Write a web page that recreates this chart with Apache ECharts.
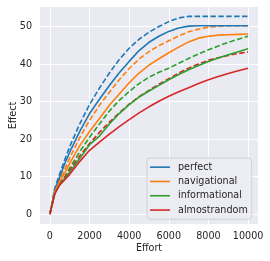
<!DOCTYPE html>
<html><head><meta charset="utf-8">
<script src="https://cdn.jsdelivr.net/npm/echarts@6/dist/echarts.min.js"></script>
<style>html,body{margin:0;padding:0;background:#fff}#c{width:270px;height:261px}</style>
</head><body><div id="c"></div>
<script>
const effort = [0,250,500,750,1000,1500,2000,2500,3000,3500,4000,4500,5000,5500,6000,6500,7000,7500,8000,8500,9000,9500,10000];
const perfectSolid  = [0,6.5,10,13.5,16.5,22,26.8,30.6,34.3,37.7,40.7,43.6,45.8,47.4,48.7,49.6,50.1,50.2,50.2,50.2,50.2,50.2,50.2];
const perfectDashed = [0,7,10.8,14.5,18,24,29.2,33.6,37.6,41.2,44.2,46.6,48.5,50.0,51.3,52.3,52.7,52.7,52.7,52.7,52.7,52.7,52.7];
const navSolid      = [0,6,8.8,11,13.5,18.2,22,25.5,29,32,35,37.6,39.7,41.4,43,44.5,45.9,46.9,47.4,47.7,47.8,47.9,48.0];
const navDashed     = [0,6.3,9.2,12,15,20.3,25,29,32.5,35.8,38.8,41.3,43.3,44.9,46.2,47.5,48.6,49.3,49.8,50.1,50.2,50.2,50.2];
const infoSolid     = [0,5.5,8,9.5,11.2,14.8,18.5,20.8,24,26.8,29.2,31.2,32.8,34.3,35.8,37.2,38.5,39.6,40.7,41.6,42.5,43.3,44.1];
const infoDashed    = [0,5.8,8.3,10,12.3,16.6,20.5,24,27.5,30.3,32.7,34.8,36.5,37.8,38.9,40.2,41.5,42.7,43.8,44.8,45.8,46.6,47.4];
const randSolid     = [0,5.5,7.8,9.2,10.6,14,17,19.2,21.3,23.3,25.2,27,28.6,30.1,31.4,32.6,33.7,34.8,35.8,36.7,37.5,38.2,38.9];
const randDashed    = [0,5.7,8.2,9.8,11.7,15.5,18.8,21.8,24.5,27,29.3,31.3,33,34.6,36.1,37.6,38.9,40,41,41.7,42.3,42.8,43.2];
const xTicks = [0,2000,4000,6000,8000,10000];
const yTicks = [0,10,20,30,40,50];
const names = ['perfect','navigational','informational','almostrandom'];
const colors = ['#1f77b4','#ff7f0e','#2ca02c','#d62728'];

const pairs = ys => effort.map((x,i)=>[x, ys[i]]);
const solids = [perfectSolid, navSolid, infoSolid, randSolid];
const dashes = [perfectDashed, navDashed, infoDashed, randDashed];
const series = [];
for (let i=0;i<4;i++){
  series.push({name: names[i]+' ', type:'line', data: pairs(dashes[i]), showSymbol:false, color: colors[i],
    lineStyle:{width:1.6, type:[5.5,2.4], color: colors[i]}, z:2});
}
for (let i=0;i<4;i++){
  series.push({name: names[i], type:'line', data: pairs(solids[i]), showSymbol:false, color: colors[i],
    lineStyle:{width:1.6, color: colors[i]}, z:3});
}
const txt = '#262626';
const font = 'DejaVu Sans';
const chart = echarts.init(document.getElementById('c'), null, {renderer:'canvas'});
chart.setOption({
  animation:false,
  backgroundColor:'#ffffff',
  textStyle:{fontFamily:font},
  grid:{left:40, top:7, width:218, height:217, show:true, backgroundColor:'#EAEAF2', borderWidth:0,
    containLabel:false, outerBoundsMode:'none'},
  xAxis:{type:'value', min:-500, max:10500,
    name:'Effort', nameLocation:'middle', nameGap:19, nameMoveOverlap:false,
    nameTextStyle:{color:txt, fontSize:9.6, fontFamily:font},
    axisLine:{show:false}, axisTick:{show:false, customValues:xTicks},
    axisLabel:{customValues:xTicks, color:txt, fontSize:9.6, fontFamily:font, margin:7, formatter:v=>String(v)},
    splitLine:{show:true, lineStyle:{color:'#ffffff', width:1}}},
  yAxis:{type:'value', min:-2.63, max:55.2,
    name:'Effect', nameLocation:'middle', nameGap:22, nameRotate:90, nameMoveOverlap:false,
    nameTextStyle:{color:txt, fontSize:9.6, fontFamily:font},
    axisLine:{show:false}, axisTick:{show:false, customValues:yTicks},
    axisLabel:{customValues:yTicks, color:txt, fontSize:9.6, fontFamily:font, margin:8, formatter:v=>String(v)},
    splitLine:{show:true, lineStyle:{color:'#ffffff', width:1}}},
  legend:{data:names, orient:'vertical', left:147, top:158,
    icon:'rect', itemWidth:20, itemHeight:1.6, itemGap:0,
    padding:[2,4,2,3], backgroundColor:'rgba(236,236,243,0.85)', borderColor:'#cfcfd6', borderWidth:1, borderRadius:3,
    textStyle:{color:txt, fontSize:9.6, fontFamily:font, lineHeight:14.3, padding:[0,0,0,3]}},
  series: series
});
</script></body></html>
